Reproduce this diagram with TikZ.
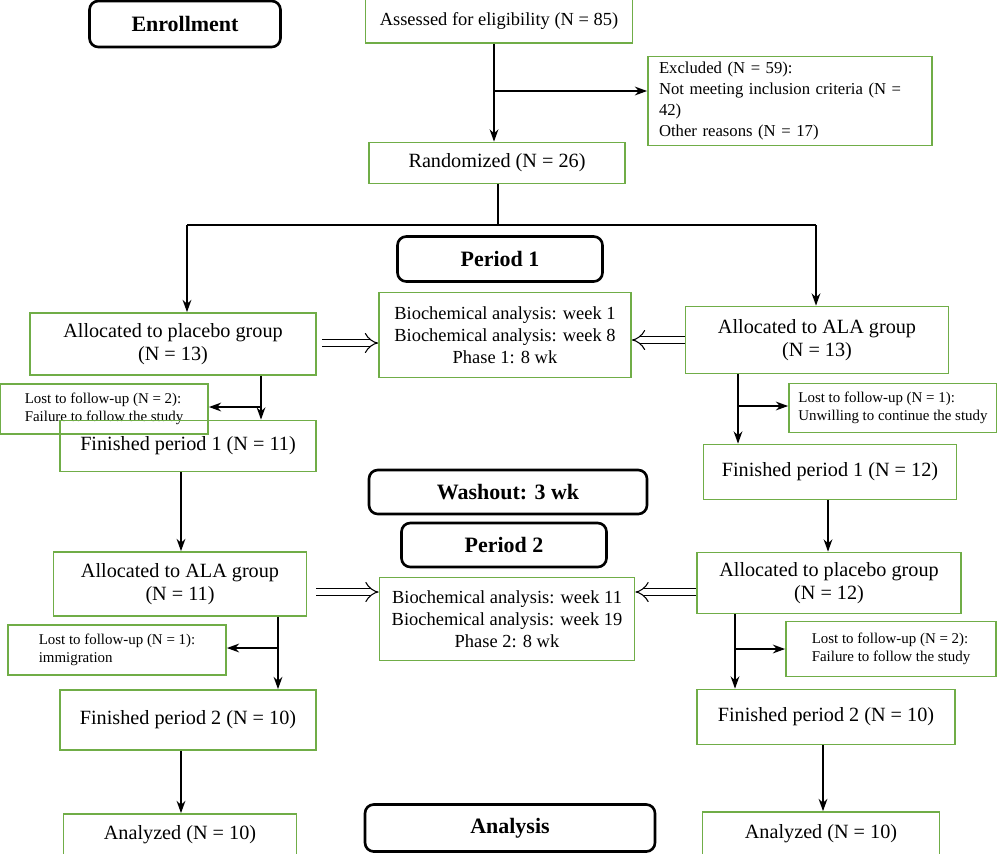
\documentclass[tikz,border=0pt]{standalone}
\usepackage{fontspec}
\setmainfont{Liberation Serif}
\usetikzlibrary{arrows.meta}
\definecolor{boxgreen}{RGB}{112,173,71}
\tikzset{
  sz/.style 2 args={minimum width=#1*0.02cm, minimum height=#2*0.02cm},
  box/.style={draw=boxgreen, line width=1pt, align=center, inner sep=1pt, font=\fontsize{11.5}{13.5}\selectfont},
  small/.style={draw=boxgreen, line width=1pt, align=left, inner sep=3pt, font=\fontsize{8.5}{10.5}\selectfont},
  head/.style={draw, rounded corners=5pt, line width=1.5pt, font=\bfseries\fontsize{12.5}{14}\selectfont},
  arr/.style={-{Stealth[length=7pt,width=5pt]}, line width=0.9pt},
  open/.style={double, double distance=3.5pt, line width=0.6pt, -{Implies[]}}
}
\begin{document}
\begin{tikzpicture}[x=0.02cm, y=-0.02cm]
      \useasboundingbox (0,0) rectangle (997,853);

      % headings
      \node[head, sz={191}{46}] (enroll) at (185,24) {Enrollment};
      \node[head, sz={205}{45}] (per1) at (500,259) {Period 1};
      \node[head, sz={278}{44}] (wash) at (508,492) {Washout: 3 wk};
      \node[head, sz={205}{44}] (per2) at (504,545) {Period 2};
      \node[head, sz={290}{47}] (anal) at (510,828) {Analysis};

      % enrollment
      \node[box, sz={267}{44}, font=\fontsize{10.5}{12}\selectfont] (assess) at (499,21) {Assessed for eligibility (N = 85)};
      \node[small, sz={284}{88}, text width=262*0.02cm, font=\fontsize{9.5}{12}\selectfont] (excl) at (790,101) {Excluded (N = 59):\\Not meeting inclusion criteria (N = 42)\\Other reasons (N = 17)};
      \node[box, sz={256}{41}] (rand) at (497,163) {Randomized (N = 26)};

      % period 1
      \node[box, sz={286}{62}] (plc1) at (173,344) {Allocated to placebo group\\(N = 13)};
      \node[box, sz={252}{85}, font=\fontsize{10.5}{12.5}\selectfont] (bio1) at (505,335) {Biochemical analysis: week 1\\Biochemical analysis: week 8\\Phase 1: 8 wk};
      \node[box, sz={263}{67}] (ala1) at (817,340) {Allocated to ALA group\\(N = 13)};
      \node[small, sz={208}{50}] (lostL1) at (104,409) {Lost to follow-up (N = 2):\\Failure to follow the study};
      \node[small, sz={208}{49}] (lostR1) at (893,408) {Lost to follow-up (N = 1):\\Unwilling to continue the study};
      \node[box, sz={256}{51}] (finL1) at (188,446) {Finished period 1 (N = 11)};
      \node[box, sz={253}{55}] (finR1) at (830,472) {Finished period 1 (N = 12)};

      % period 2
      \node[box, sz={253}{64}] (ala2) at (180,584) {Allocated to ALA group\\(N = 11)};
      \node[box, sz={255}{83}, font=\fontsize{10.5}{12.5}\selectfont] (bio2) at (507,619) {Biochemical analysis: week 11\\Biochemical analysis: week 19\\Phase 2: 8 wk};
      \node[box, sz={264}{61}] (plc2) at (829,583) {Allocated to placebo group\\(N = 12)};
      \node[small, sz={218}{50}] (lostL2) at (117,650) {Lost to follow-up (N = 1):\\immigration};
      \node[small, sz={210}{55}] (lostR2) at (891,649) {Lost to follow-up (N = 2):\\Failure to follow the study};
      \node[box, sz={256}{60}] (finL2) at (188,720) {Finished period 2 (N = 10)};
      \node[box, sz={258}{55}] (finR2) at (826,717) {Finished period 2 (N = 10)};

      % analysis
      \node[box, sz={233}{42}] (anL) at (180,835) {Analyzed (N = 10)};
      \node[box, sz={237}{44}] (anR) at (821,834) {Analyzed (N = 10)};

      % connectors
      \coordinate (b1) at (494,91);
      \draw[arr] (494,0 |- assess.south) -- (494,0 |- rand.north);
      \draw[arr] (b1) -- (b1 -| excl.west);
      \coordinate (sL) at (187,225);
      \coordinate (sR) at (816,225);
      \draw[line width=0.9pt] (498,0 |- rand.south) -- (498,225);
      \draw[line width=0.9pt] (sL) -- (sR);
      \draw[arr] (sL) -- (sL |- plc1.north);
      \draw[arr] (sR) -- (sR |- ala1.north);

      \draw[open] (322,343) -- (bio1.west |- 0,343);
      \draw[open] (ala1.west |- 0,340) -- (bio1.east |- 0,340);
      \draw[open] (316,592) -- (bio2.west |- 0,592);
      \draw[open] (plc2.west |- 0,592) -- (bio2.east |- 0,592);

      \coordinate (cL1) at (261,407);
      \coordinate (cR1) at (738,406);
      \draw[arr] (261,0 |- plc1.south) -- (261,0 |- finL1.north);
      \draw[arr] (cL1) -- (cL1 -| lostL1.east);
      \draw[arr] (738,0 |- ala1.south) -- (738,0 |- finR1.north);
      \draw[arr] (cR1) -- (cR1 -| lostR1.west);

      \draw[arr] (181,0 |- finL1.south) -- (181,0 |- ala2.north);
      \draw[arr] (828,0 |- finR1.south) -- (828,0 |- plc2.north);

      \coordinate (cL2) at (278,648);
      \coordinate (cR2) at (735,649);
      \draw[arr] (278,0 |- ala2.south) -- (278,0 |- finL2.north);
      \draw[arr] (cL2) -- (cL2 -| lostL2.east);
      \draw[arr] (735,0 |- plc2.south) -- (735,0 |- finR2.north);
      \draw[arr] (cR2) -- (cR2 -| lostR2.west);

      \draw[arr] (181,0 |- finL2.south) -- (181,0 |- anL.north);
      \draw[arr] (823,0 |- finR2.south) -- (823,0 |- anR.north);

    \end{tikzpicture}
\end{document}
